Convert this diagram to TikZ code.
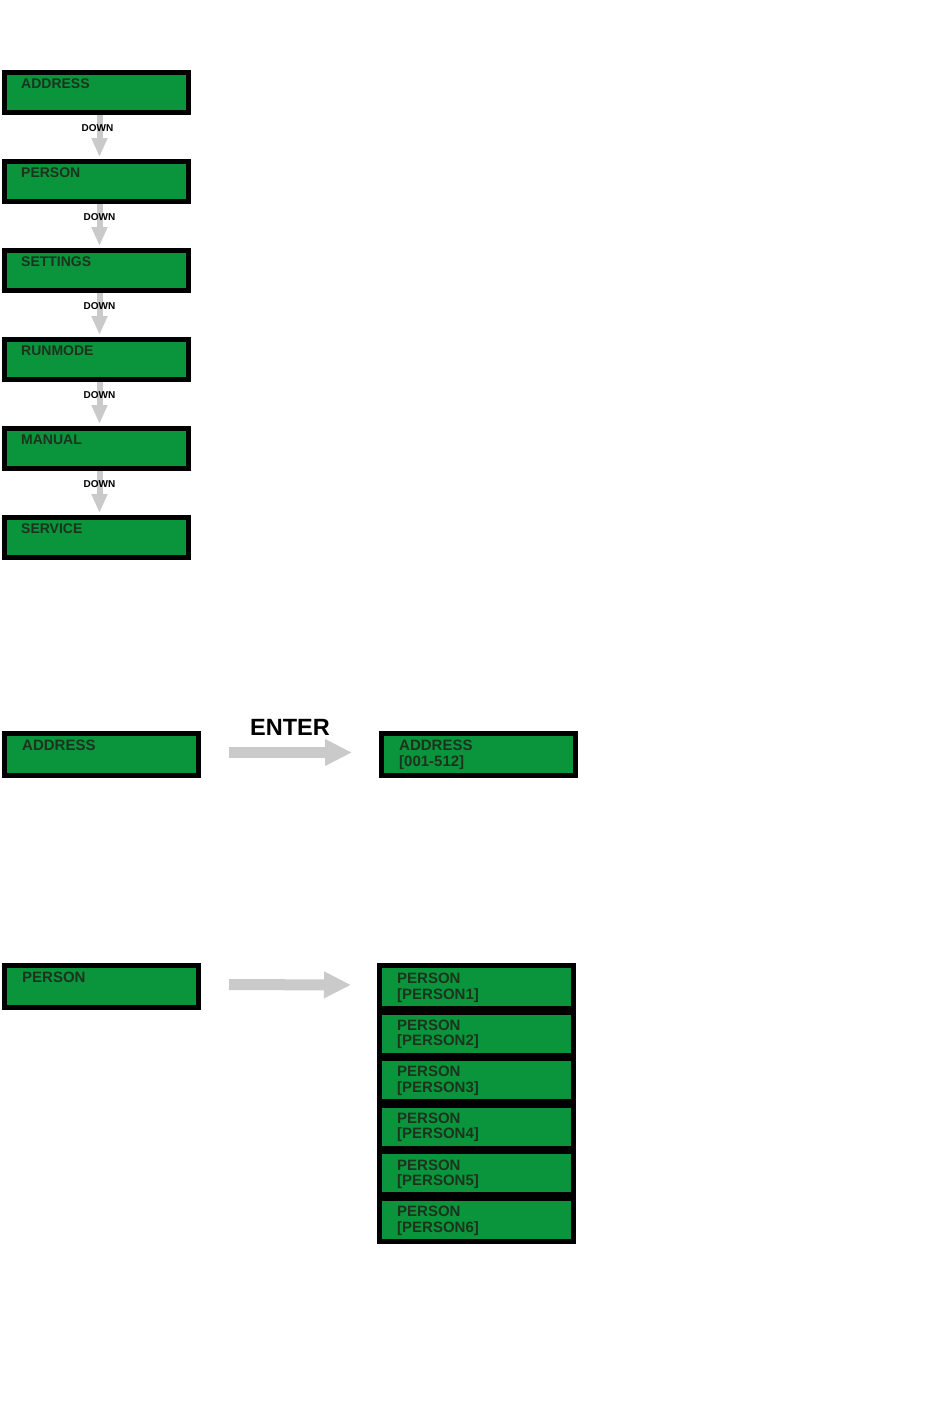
\documentclass[tikz,border=0pt]{standalone}
\usepackage{fontspec}
\setmainfont{Liberation Sans}
\usetikzlibrary{arrows.meta}
\definecolor{lcdgreen}{RGB}{10,148,60}
\definecolor{lcdink}{RGB}{28,52,30}
\definecolor{keygray}{RGB}{202,202,202}

\begin{document}
\begin{tikzpicture}[x=1pt, y=-1pt,
  lcd/.style={draw=black, fill=lcdgreen, line width=5pt, inner sep=0pt},
  menubox/.style={lcd, minimum width=184pt, minimum height=40pt},
  screenbox/.style={lcd, minimum width=194pt, minimum height=42pt},
  stackbox/.style={lcd, minimum width=194pt, minimum height=43pt},
  lcdtext/.style={anchor=north west, inner sep=0pt, text=lcdink, align=left,
    font=\bfseries\fontsize{15}{15.5}\selectfont},
  menutext/.style={lcdtext, font=\bfseries\fontsize{14}{15}\selectfont},
  downkey/.style={keygray, line width=6pt, -{Triangle[width=15pt,length=19pt]}, shorten >=2pt},
  downlabel/.style={inner sep=0pt, text=black, font=\bfseries\fontsize{10}{12}\selectfont},
  bigkey/.style={keygray, line width=11pt, -{Triangle[width=25pt,length=27pt]}},
  enterlabel/.style={inner sep=0pt, text=black, font=\bfseries\fontsize{23.5}{26}\selectfont}]
\useasboundingbox (0,0) rectangle (950,1408);
% ---- top: the menu chain ----
\node[menubox] (address) at (96.5,92.5) {};
\node[menubox] (person) at (96.5,181.5) {};
\node[menubox] (settings) at (96.5,270.5) {};
\node[menubox] (runmode) at (96.5,359.5) {};
\node[menubox] (manual) at (96.5,448.5) {};
\node[menubox] (service) at (96.5,537.5) {};
\node[menutext] (address-t) at ([shift={(19,9)}]address.north west) {ADDRESS};
\node[menutext] (person-t) at ([shift={(19,9)}]person.north west) {PERSON};
\node[menutext] (settings-t) at ([shift={(19,9)}]settings.north west) {SETTINGS};
\node[menutext] (runmode-t) at ([shift={(19,9)}]runmode.north west) {RUNMODE};
\node[menutext] (manual-t) at ([shift={(19,9)}]manual.north west) {MANUAL};
\node[menutext] (service-t) at ([shift={(19,9)}]service.north west) {SERVICE};
% down keys
\draw[downkey] ([xshift=3pt]address.south) -- ([xshift=3pt]person.north) node[pos=.3, downlabel, xshift=-2pt] (down1) {DOWN};
\draw[downkey] ([xshift=3pt]person.south) -- ([xshift=3pt]settings.north) node[pos=.3, downlabel] (down2) {DOWN};
\draw[downkey] ([xshift=3pt]settings.south) -- ([xshift=3pt]runmode.north) node[pos=.3, downlabel] (down3) {DOWN};
\draw[downkey] ([xshift=3pt]runmode.south) -- ([xshift=3pt]manual.north) node[pos=.3, downlabel] (down4) {DOWN};
\draw[downkey] ([xshift=3pt]manual.south) -- ([xshift=3pt]service.north) node[pos=.3, downlabel] (down5) {DOWN};
% ---- middle: address setting ----
\node[screenbox] (addrmenu) at (101.5,754.5) {};
\node[screenbox] (addrset) at (478.5,754.5) {};
\node[lcdtext] (addrmenu-t) at ([shift={(20,9)}]addrmenu.north west) {ADDRESS};
\node[lcdtext] (addrset-t) at ([shift={(20,9)}]addrset.north west) {ADDRESS\\{}[001-512]};
\draw[bigkey, shorten <=28pt, shorten >=27pt] ([yshift=2pt]addrmenu.east) -- ([yshift=2pt]addrset.west)
  node[midway, above=12pt, enterlabel] (enter) {ENTER};
% ---- bottom: person choice ----
\node[screenbox] (personmenu) at (101.5,986.5) {};
\node[stackbox] (person1) at (476.5,987) {};
\node[stackbox] (person2) at (476.5,1033.6) {};
\node[stackbox] (person3) at (476.5,1080.2) {};
\node[stackbox] (person4) at (476.5,1126.8) {};
\node[stackbox] (person5) at (476.5,1173.4) {};
\node[stackbox] (person6) at (476.5,1220) {};
\node[lcdtext] (personmenu-t) at ([shift={(20,9)}]personmenu.north west) {PERSON};
\node[lcdtext] (person1-t) at ([shift={(20,10)}]person1.north west) {PERSON\\{}[PERSON1]};
\node[lcdtext] (person2-t) at ([shift={(20,10)}]person2.north west) {PERSON\\{}[PERSON2]};
\node[lcdtext] (person3-t) at ([shift={(20,10)}]person3.north west) {PERSON\\{}[PERSON3]};
\node[lcdtext] (person4-t) at ([shift={(20,10)}]person4.north west) {PERSON\\{}[PERSON4]};
\node[lcdtext] (person5-t) at ([shift={(20,10)}]person5.north west) {PERSON\\{}[PERSON5]};
\node[lcdtext] (person6-t) at ([shift={(20,10)}]person6.north west) {PERSON\\{}[PERSON6]};
\draw[bigkey, shorten <=28pt, shorten >=26pt] ([yshift=2pt]personmenu.east) -- ([yshift=2pt]person1.west);
\end{tikzpicture}
\end{document}
